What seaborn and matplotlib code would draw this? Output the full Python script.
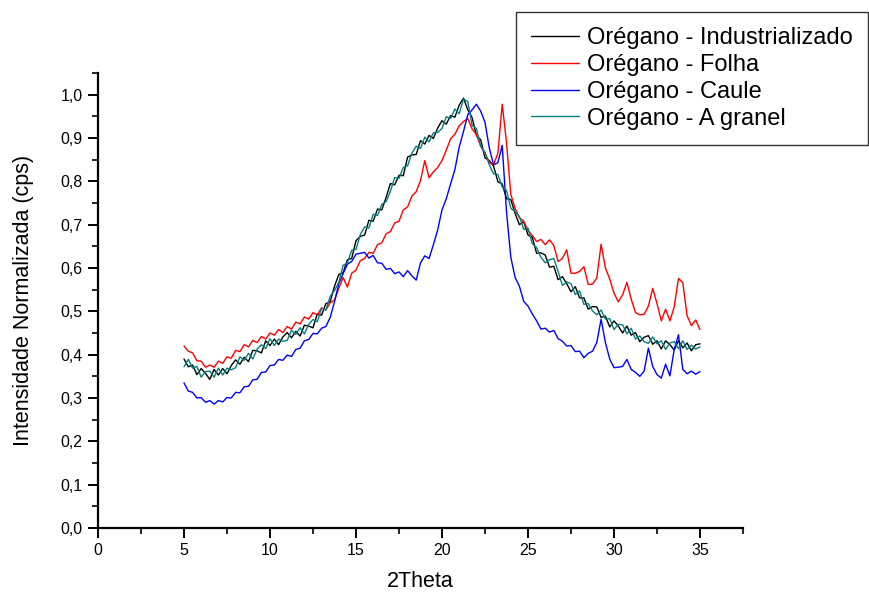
import numpy as np
import pandas as pd
import matplotlib
matplotlib.use("Agg")
import matplotlib.pyplot as plt
import seaborn as sns
from matplotlib.ticker import FixedLocator, FixedFormatter, MultipleLocator
from matplotlib.lines import Line2D

# ---------------- data ----------------
two_theta = np.linspace(5, 35, 121)

industrializado = [
    0.390, 0.372, 0.376, 0.354, 0.368, 0.357, 0.343, 0.366, 0.353, 0.368,
    0.356, 0.375, 0.388, 0.378, 0.394, 0.384, 0.410, 0.409, 0.404, 0.432,
    0.421, 0.436, 0.423, 0.441, 0.451, 0.439, 0.454, 0.443, 0.468, 0.466,
    0.462, 0.494, 0.491, 0.518, 0.522, 0.558, 0.585, 0.589, 0.619, 0.622,
    0.663, 0.673, 0.676, 0.710, 0.708, 0.736, 0.734, 0.763, 0.795, 0.792,
    0.814, 0.813, 0.856, 0.861, 0.862, 0.894, 0.886, 0.906, 0.899, 0.923,
    0.940, 0.932, 0.952, 0.948, 0.976, 0.992, 0.965, 0.947, 0.906, 0.896,
    0.854, 0.848, 0.835, 0.799, 0.794, 0.760, 0.758, 0.726, 0.700, 0.707,
    0.676, 0.671, 0.634, 0.635, 0.630, 0.602, 0.604, 0.573, 0.580, 0.564,
    0.545, 0.557, 0.531, 0.531, 0.505, 0.511, 0.510, 0.486, 0.489, 0.464,
    0.478, 0.466, 0.450, 0.466, 0.445, 0.451, 0.430, 0.440, 0.444, 0.424,
    0.432, 0.413, 0.432, 0.423, 0.411, 0.432, 0.416, 0.427, 0.409, 0.423,
    0.425,
]

folha = [
    0.420, 0.408, 0.404, 0.386, 0.385, 0.371, 0.376, 0.371, 0.385, 0.380,
    0.395, 0.392, 0.410, 0.407, 0.423, 0.418, 0.433, 0.428, 0.442, 0.436,
    0.450, 0.445, 0.458, 0.451, 0.465, 0.459, 0.475, 0.471, 0.487, 0.482,
    0.497, 0.492, 0.508, 0.503, 0.520, 0.526, 0.553, 0.578, 0.556, 0.588,
    0.595, 0.617, 0.622, 0.636, 0.634, 0.654, 0.658, 0.679, 0.684, 0.704,
    0.708, 0.734, 0.741, 0.766, 0.776, 0.802, 0.848, 0.808, 0.822, 0.832,
    0.848, 0.872, 0.898, 0.909, 0.928, 0.938, 0.945, 0.921, 0.908, 0.881,
    0.865, 0.843, 0.838, 0.865, 0.978, 0.890, 0.770, 0.738, 0.716, 0.708,
    0.686, 0.675, 0.661, 0.666, 0.654, 0.665, 0.652, 0.615, 0.622, 0.642,
    0.588, 0.588, 0.592, 0.603, 0.562, 0.563, 0.577, 0.655, 0.600, 0.575,
    0.542, 0.522, 0.538, 0.567, 0.528, 0.497, 0.492, 0.493, 0.512, 0.553,
    0.518, 0.478, 0.505, 0.478, 0.510, 0.576, 0.566, 0.490, 0.467, 0.480,
    0.458,
]

caule = [
    0.335, 0.316, 0.313, 0.300, 0.301, 0.290, 0.294, 0.286, 0.294, 0.291,
    0.301, 0.300, 0.313, 0.312, 0.326, 0.327, 0.342, 0.343, 0.359, 0.360,
    0.375, 0.376, 0.389, 0.387, 0.399, 0.396, 0.412, 0.415, 0.432, 0.435,
    0.449, 0.448, 0.461, 0.465, 0.486, 0.522, 0.564, 0.587, 0.609, 0.615,
    0.632, 0.634, 0.636, 0.623, 0.629, 0.612, 0.611, 0.597, 0.599, 0.587,
    0.591, 0.580, 0.594, 0.582, 0.572, 0.612, 0.628, 0.622, 0.654, 0.688,
    0.734, 0.760, 0.794, 0.827, 0.879, 0.915, 0.954, 0.965, 0.978, 0.962,
    0.936, 0.877, 0.838, 0.843, 0.883, 0.730, 0.625, 0.578, 0.558, 0.523,
    0.512, 0.494, 0.478, 0.459, 0.461, 0.452, 0.456, 0.437, 0.431, 0.420,
    0.421, 0.407, 0.408, 0.393, 0.403, 0.408, 0.428, 0.482, 0.428, 0.390,
    0.370, 0.371, 0.373, 0.389, 0.366, 0.359, 0.350, 0.362, 0.415, 0.373,
    0.354, 0.346, 0.378, 0.351, 0.412, 0.446, 0.366, 0.356, 0.362, 0.355,
    0.361,
]

a_granel = [
    0.372, 0.389, 0.369, 0.373, 0.348, 0.361, 0.362, 0.348, 0.369, 0.353,
    0.369, 0.365, 0.370, 0.395, 0.387, 0.403, 0.390, 0.413, 0.423, 0.414,
    0.437, 0.421, 0.436, 0.431, 0.433, 0.456, 0.447, 0.462, 0.448, 0.470,
    0.481, 0.476, 0.507, 0.503, 0.535, 0.548, 0.567, 0.606, 0.612, 0.641,
    0.643, 0.677, 0.695, 0.692, 0.724, 0.721, 0.747, 0.753, 0.777, 0.809,
    0.807, 0.832, 0.836, 0.865, 0.881, 0.876, 0.902, 0.891, 0.912, 0.913,
    0.922, 0.949, 0.945, 0.967, 0.956, 0.990, 0.984, 0.929, 0.922, 0.881,
    0.867, 0.838, 0.817, 0.816, 0.787, 0.779, 0.738, 0.730, 0.719, 0.689,
    0.692, 0.656, 0.647, 0.625, 0.612, 0.619, 0.622, 0.592, 0.560, 0.568,
    0.564, 0.539, 0.547, 0.516, 0.518, 0.501, 0.492, 0.503, 0.482, 0.483,
    0.458, 0.470, 0.469, 0.448, 0.461, 0.436, 0.443, 0.430, 0.426, 0.441,
    0.425, 0.432, 0.412, 0.427, 0.430, 0.414, 0.432, 0.412, 0.422, 0.413,
    0.418,
]

series_names = ["Orégano - Industrializado", "Orégano - Folha",
                "Orégano - Caule", "Orégano - A granel"]
series_values = [industrializado, folha, caule, a_granel]
series_colors = ["#000000", "#FF0000", "#0000FF", "#008080"]

x_ticks = [0, 5, 10, 15, 20, 25, 30, 35]
x_tick_labels = ["0", "5", "10", "15", "20", "25", "30", "35"]
y_ticks = [0.0, 0.1, 0.2, 0.3, 0.4, 0.5, 0.6, 0.7, 0.8, 0.9, 1.0]
y_tick_labels = ["0,0", "0,1", "0,2", "0,3", "0,4", "0,5",
                 "0,6", "0,7", "0,8", "0,9", "1,0"]

# ---------------- figure ----------------
sns.set_theme(style="ticks")
plt.rcParams["font.family"] = ["Liberation Sans", "DejaVu Sans"]

frames = []
for name, vals in zip(series_names, series_values):
    frames.append(pd.DataFrame({"x": two_theta, "y": vals, "serie": name}))
df = pd.concat(frames, ignore_index=True)

fig = plt.figure(figsize=(8.70, 5.93), dpi=100)
ax = fig.add_axes([98 / 870, 65 / 593, (743 - 98) / 870, (528 - 73) / 593])

sns.lineplot(data=df, x="x", y="y", hue="serie", hue_order=series_names,
             palette=dict(zip(series_names, series_colors)),
             linewidth=1.0, ax=ax, legend=False, sort=False,
             estimator=None)

ax.set_xlim(0, 37.5)
ax.set_ylim(0, 1.05)
ax.xaxis.set_major_locator(FixedLocator(x_ticks))
ax.xaxis.set_major_formatter(FixedFormatter(x_tick_labels))
ax.xaxis.set_minor_locator(MultipleLocator(2.5))
ax.yaxis.set_major_locator(FixedLocator(y_ticks))
ax.yaxis.set_major_formatter(FixedFormatter(y_tick_labels))
ax.yaxis.set_minor_locator(MultipleLocator(0.05))

for s in ["top", "right"]:
    ax.spines[s].set_visible(False)
for s in ["left", "bottom"]:
    ax.spines[s].set_linewidth(1.6)
    ax.spines[s].set_color("black")

ax.tick_params(axis="both", which="major", direction="out", length=7,
               width=1.4, color="black", labelsize=11.5, pad=4,
               labelcolor="black")
ax.tick_params(axis="both", which="minor", direction="out", length=4,
               width=1.2, color="black")

ax.set_xlabel("2Theta", fontsize=15.5, labelpad=9, color="black")
ax.set_ylabel("Intensidade Normalizada (cps)", fontsize=15.5, labelpad=19,
              color="black")
ax.set_facecolor("white")
fig.patch.set_facecolor("white")

handles = [Line2D([0], [0], color=c, lw=1.0) for c in series_colors]
leg = fig.legend(handles, series_names, loc="upper right",
                 bbox_to_anchor=(868 / 870, 1 - 12 / 593),
                 fontsize=17, frameon=True, fancybox=False,
                 handlelength=2.0, handletextpad=0.35, labelspacing=0.2,
                 borderpad=0.65, borderaxespad=0.0)
leg.get_frame().set_edgecolor("black")
leg.get_frame().set_linewidth(1.0)
for t in leg.get_texts():
    t.set_color("black")

fig.savefig("out.png", dpi=100)
